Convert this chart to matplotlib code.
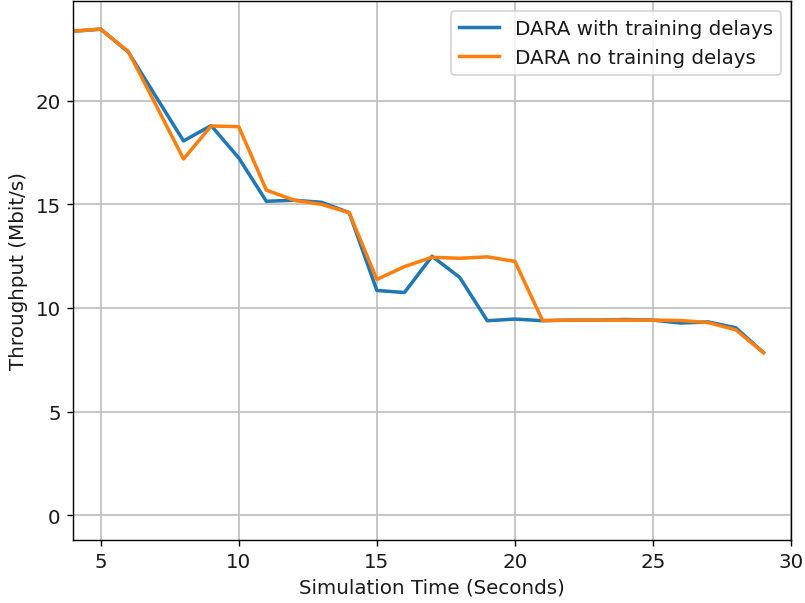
import matplotlib
matplotlib.use("Agg")
import matplotlib.pyplot as plt

plt.rcParams["font.size"] = 11.4
plt.rcParams["text.color"] = "#1a1a1a"
plt.rcParams["axes.labelcolor"] = "#1a1a1a"
plt.rcParams["xtick.labelcolor"] = "#1a1a1a"
plt.rcParams["ytick.labelcolor"] = "#1a1a1a"

time_s = [4, 5, 6, 7, 8, 9, 10, 11, 12, 13, 14, 15, 16, 17, 18, 19, 20, 21, 22, 23, 24, 25, 26, 27, 28, 29]
with_delays = [23.35, 23.45, 22.35, 20.2, 18.06, 18.8, 17.24, 15.15, 15.2, 15.1, 14.6, 10.85, 10.75, 12.5,
               11.48, 9.39, 9.47, 9.39, 9.42, 9.42, 9.45, 9.42, 9.28, 9.33, 9.05, 7.85]
no_delays = [23.35, 23.45, 22.37, 19.8, 17.19, 18.78, 18.75, 15.69, 15.2, 15.0, 14.6, 11.38, 12.0, 12.45,
             12.4, 12.47, 12.25, 9.4, 9.42, 9.42, 9.42, 9.42, 9.4, 9.3, 8.95, 7.85]

fig, ax = plt.subplots(figsize=(6.4, 4.8), dpi=125.8)
fig.subplots_adjust(left=0.0907, right=0.9826, top=0.9967, bottom=0.1048)

ax.plot(time_s, with_delays, color="#1f77b4", linewidth=2, label="DARA with training delays")
ax.plot(time_s, no_delays, color="#ff7f0e", linewidth=2, label="DARA no training delays")

ax.set_xlim(4, 30)
ax.set_ylim(-1.17, 24.8)
ax.set_xticks([5, 10, 15, 20, 25, 30])
ax.set_yticks([0, 5, 10, 15, 20])
ax.grid(True, color="#c0c0c0", linewidth=1)
ax.set_xlabel("Simulation Time (Seconds)")
ax.set_ylabel("Throughput (Mbit/s)")
ax.legend(loc="upper right")

plt.savefig("out.png", dpi=125.8)
